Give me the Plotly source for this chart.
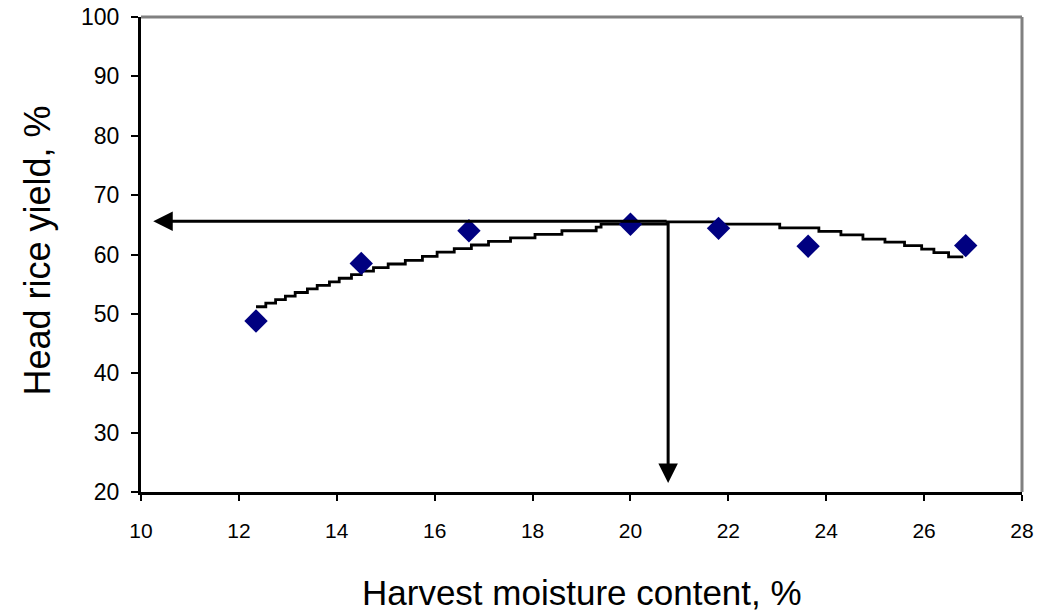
import plotly.graph_objects as go

# Measured data points
moisture = [12.35, 14.5, 16.7, 20.0, 21.8, 23.63, 26.85]
head_rice_yield = [48.8, 58.5, 64.0, 65.1, 64.4, 61.4, 61.5]

# Fitted trend curve (drawn as steps)
fit_x = [12.35, 12.55, 12.75, 12.95, 13.15, 13.4, 13.6, 13.85, 14.05, 14.3,
         14.5, 14.75, 15.05, 15.4, 15.75, 16.05, 16.4, 16.75, 17.1, 17.55,
         18.05, 18.6, 19.3, 19.4, 20.75, 21.78, 23.05, 23.85, 24.3, 24.75,
         25.2, 25.6, 25.95, 26.2, 26.5, 26.8]
fit_y = [51.2, 51.8, 52.4, 53.0, 53.6, 54.2, 54.8, 55.4, 56.0, 56.6,
         57.2, 57.8, 58.4, 59.0, 59.7, 60.4, 61.0, 61.6, 62.2, 62.8,
         63.4, 64.0, 64.6, 65.1, 65.5, 65.1, 64.5, 63.9, 63.3, 62.6,
         62.1, 61.5, 60.9, 60.3, 59.6, 59.6]

# Optimum
optimum_moisture = 20.77
max_yield = 65.6
arrow_left_end = 10.25
arrow_bottom_end = 21.5

x_ticks = [10, 12, 14, 16, 18, 20, 22, 24, 26, 28]
y_ticks = [20, 30, 40, 50, 60, 70, 80, 90, 100]

FONT = "Liberation Sans, Arial, sans-serif"

fig = go.Figure()
fig.add_trace(go.Scatter(
    x=fit_x, y=fit_y, mode="lines", line=dict(color="black", width=2.8, shape="hv"),
    showlegend=False, hoverinfo="skip"))
fig.add_trace(go.Scatter(
    x=moisture, y=head_rice_yield, mode="markers",
    marker=dict(symbol="diamond", size=18, color="#000080", line=dict(width=0)),
    showlegend=False))

fig.add_annotation(x=arrow_left_end, y=max_yield, ax=optimum_moisture, ay=max_yield,
                   xref="x", yref="y", axref="x", ayref="y", text="",
                   showarrow=True, arrowhead=2, arrowsize=1.3, arrowwidth=3, arrowcolor="black")
fig.add_annotation(x=optimum_moisture, y=arrow_bottom_end, ax=optimum_moisture, ay=max_yield,
                   xref="x", yref="y", axref="x", ayref="y", text="",
                   showarrow=True, arrowhead=2, arrowsize=1.3, arrowwidth=3, arrowcolor="black")

# Axis titles
fig.add_annotation(text="Harvest moisture content, %", x=0.5, y=0, xref="paper", yref="paper",
                   xanchor="center", yanchor="middle", yshift=-100, showarrow=False,
                   font=dict(family=FONT, size=35, color="black"))
fig.add_annotation(text="Head rice yield, %", x=0, y=0.5, xref="paper", yref="paper",
                   xanchor="center", yanchor="middle", xshift=-104, yshift=4, textangle=-90,
                   showarrow=False, font=dict(family=FONT, size=36, color="black"))

# Gray top/right frame
fig.add_shape(type="line", xref="paper", yref="paper", x0=0, x1=1, y0=1, y1=1,
              line=dict(color="#808080", width=3))
fig.add_shape(type="line", xref="paper", yref="paper", x0=1, x1=1, y0=0, y1=1,
              line=dict(color="#808080", width=3))

fig.update_layout(
    width=1058, height=614,
    margin=dict(l=141, r=36, t=17, b=122, autoexpand=False),
    paper_bgcolor="white", plot_bgcolor="white",
    font=dict(family=FONT, color="black"),
    hovermode=False,
    xaxis=dict(range=[10, 28], tickvals=x_ticks, ticktext=[str(v) for v in x_ticks],
               showgrid=False, zeroline=False, showline=True, linecolor="black", linewidth=3,
               ticks="outside", ticklen=6, tickwidth=2, tickcolor="black",
               tickfont=dict(family=FONT, size=21), ticklabelstandoff=12,
               ticklabeloverflow="allow"),
    yaxis=dict(range=[20, 100], tickvals=y_ticks, ticktext=[str(v) for v in y_ticks],
               showgrid=False, zeroline=False, showline=True, linecolor="black", linewidth=3,
               ticks="outside", ticklen=7, tickwidth=2, tickcolor="black",
               tickfont=dict(family=FONT, size=23), ticklabelstandoff=7,
               ticklabeloverflow="allow"),
)

fig.write_html(
    "out.html",
    config={"displayModeBar": False},
    post_script="document.body.style.margin='0px';document.body.style.overflow='hidden';",
)
